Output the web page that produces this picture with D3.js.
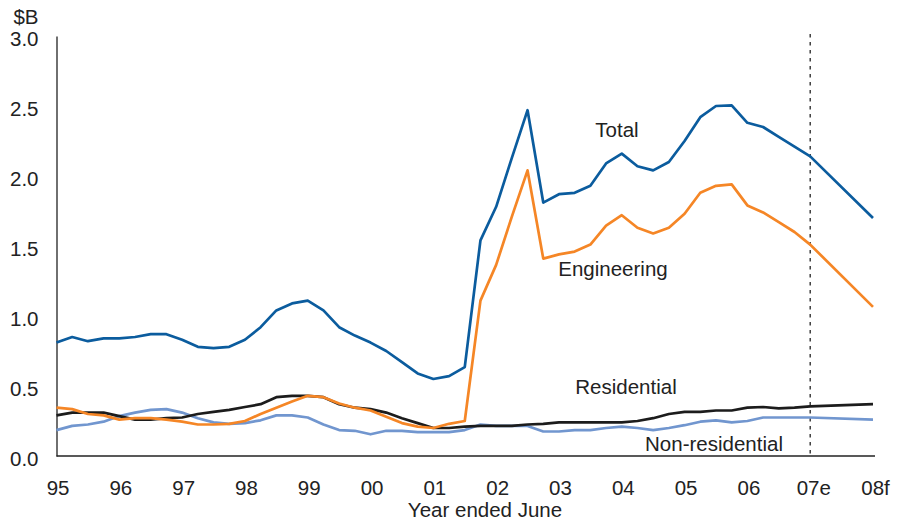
<!DOCTYPE html>
<html>
<head>
<meta charset="utf-8">
<script src="https://cdn.jsdelivr.net/npm/d3@7"></script>
<style>
  html, body { margin: 0; padding: 0; background: #fff; }
  svg { display: block; }
  text { font-family: "Liberation Sans", Arial, sans-serif; fill: #222; }
</style>
</head>
<body>
<svg id="chart" width="901" height="521"></svg>
<script>
// x position in years since 1995 (quarterly to 2007, then annual forecast)
const xYears = [0,0.25,0.5,0.75,1,1.25,1.5,1.75,2,2.25,2.5,2.75,3,3.25,3.5,3.75,4,4.25,4.5,4.75,5,5.25,5.5,5.75,6,6.25,6.5,6.75,7,7.25,7.5,7.75,8,8.25,8.5,8.75,9,9.25,9.5,9.75,10,10.25,10.5,10.75,11,11.25,11.5,11.75,12,13];

const total = [0.81,0.85,0.82,0.84,0.84,0.85,0.87,0.87,0.83,0.78,0.77,0.78,0.83,0.92,1.04,1.09,1.11,1.04,0.92,0.86,0.81,0.75,0.67,0.59,0.55,0.57,0.635,1.54,1.78,2.13,2.47,1.81,1.87,1.88,1.93,2.09,2.16,2.07,2.04,2.10,2.25,2.42,2.50,2.505,2.38,2.35,2.28,2.21,2.14,1.70];

const engineering = [0.345,0.335,0.30,0.29,0.26,0.27,0.27,0.26,0.245,0.225,0.225,0.23,0.25,0.30,0.345,0.39,0.43,0.42,0.375,0.345,0.325,0.28,0.235,0.21,0.20,0.23,0.25,1.11,1.365,1.71,2.04,1.41,1.44,1.46,1.51,1.645,1.72,1.63,1.59,1.63,1.73,1.88,1.93,1.94,1.79,1.74,1.67,1.60,1.51,1.065];

const residential = [0.29,0.31,0.31,0.31,0.285,0.26,0.26,0.27,0.275,0.30,0.315,0.33,0.35,0.37,0.42,0.43,0.43,0.42,0.37,0.345,0.335,0.31,0.27,0.235,0.20,0.20,0.21,0.215,0.215,0.215,0.225,0.23,0.24,0.24,0.24,0.24,0.24,0.25,0.27,0.30,0.315,0.315,0.325,0.325,0.345,0.35,0.34,0.345,0.355,0.37];

const nonResidential = [0.185,0.215,0.225,0.245,0.285,0.31,0.33,0.335,0.31,0.27,0.24,0.23,0.235,0.255,0.29,0.29,0.275,0.225,0.185,0.18,0.155,0.18,0.18,0.17,0.17,0.17,0.185,0.225,0.215,0.215,0.215,0.175,0.175,0.185,0.185,0.20,0.21,0.20,0.185,0.20,0.22,0.245,0.255,0.24,0.25,0.275,0.275,0.275,0.275,0.26];

const xTickLabels = ["95","96","97","98","99","00","01","02","03","04","05","06","07e","08f"];
const yTicks = [0, 0.5, 1.0, 1.5, 2.0, 2.5, 3.0];

const seriesNames = ["Total","Engineering","Residential","Non-residential"];
const seriesColors = ["#0b5c9e","#f58626","#1c1c1c","#7196cf"];
const seriesData = [total, engineering, residential, nonResidential];
const dividerYear = 12;
const FS = 20.5;

const svg = d3.select("#chart");
const x = d3.scaleLinear().domain([0, 13]).range([56.5, 873]);
const y = d3.scaleLinear().domain([0, 3]).range([456, 36]);

// axes
const yAxis = d3.axisLeft(y).tickValues(yTicks).tickFormat(d3.format(".1f")).tickSize(0).tickPadding(18);
const gy = svg.append("g").attr("transform", `translate(${x(0)},0)`).call(yAxis);
gy.select(".domain").attr("stroke", "#222").attr("stroke-width", 1.3);
gy.selectAll(".tick text").attr("font-size", FS).attr("fill", "#222")
  .attr("font-family", "Liberation Sans, Arial, sans-serif").attr("dy", "0.45em").attr("x", -18);

const xAxis = d3.axisBottom(x).tickValues(d3.range(0, 14)).tickFormat((d, i) => xTickLabels[i]).tickSize(0).tickPadding(24);
const gx = svg.append("g").attr("transform", `translate(0,${y(0)})`).call(xAxis);
gx.select(".domain").attr("stroke", "#222").attr("stroke-width", 1.3)
  .attr("d", `M${x(0)},0H${x(13) + 2}`);
gx.selectAll(".tick text").attr("font-size", FS).attr("fill", "#222")
  .attr("font-family", "Liberation Sans, Arial, sans-serif")
  .attr("dx", (d, i) => i === 12 ? "0.15em" : (i === 13 ? "0.1em" : "0.05em"));

// divider
svg.append("line")
  .attr("x1", x(dividerYear)).attr("x2", x(dividerYear))
  .attr("y1", 34).attr("y2", y(0))
  .attr("stroke", "#222").attr("stroke-width", 1.3)
  .attr("stroke-dasharray", "3.5,4.5");

// lines
const line = d3.line().x((d, i) => x(xYears[i])).y(d => y(d));
seriesData.slice().reverse().forEach((s, k) => {
  const idx = seriesData.length - 1 - k;
  svg.append("path").datum(s)
    .attr("fill", "none")
    .attr("stroke", seriesColors[idx])
    .attr("stroke-width", 2.7)
    .attr("stroke-linejoin", "round")
    .attr("d", line);
});

// labels
const labelPos = [
  {name: "Total", cx: 617, cy: 130},
  {name: "Engineering", cx: 613, cy: 269},
  {name: "Residential", cx: 626, cy: 387},
  {name: "Non-residential", cx: 714, cy: 444}
];
labelPos.forEach(l => {
  svg.append("text").attr("x", l.cx).attr("y", l.cy).attr("dy", "0.35em")
    .attr("text-anchor", "middle").attr("font-size", FS).text(l.name);
});

svg.append("text").attr("x", 26).attr("y", 17).attr("dy", "0.35em")
  .attr("text-anchor", "middle").attr("font-size", FS).text("$B");

svg.append("text").attr("x", 485).attr("y", 510).attr("dy", "0.35em")
  .attr("text-anchor", "middle").attr("font-size", FS).text("Year ended June");
</script>
</body>
</html>
